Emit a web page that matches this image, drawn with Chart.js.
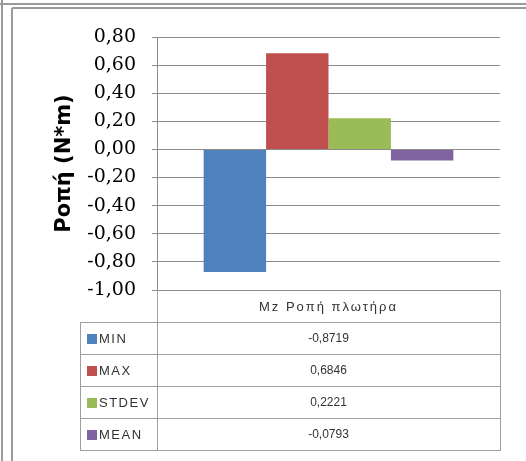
<!DOCTYPE html>
<html>
<head>
<meta charset="utf-8">
<script src="https://cdn.jsdelivr.net/npm/chart.js@4.4.0/dist/chart.umd.min.js"></script>
<style>
  html, body { margin: 0; padding: 0; background: #fff; }
  #c { display: block; }
</style>
</head>
<body>
<canvas id="c" width="526" height="461"></canvas>
<script>
// Chart data
const categories = ["Mz Ροπή πλωτήρα"];
const seriesNames = ["MIN", "MAX", "STDEV", "MEAN"];
const seriesValues = [-0.8719, 0.6846, 0.2221, -0.0793];
const seriesColors = ["#4F81BD", "#C0504D", "#9BBB59", "#8064A2"];
const yTicks = [0.8, 0.6, 0.4, 0.2, 0, -0.2, -0.4, -0.6, -0.8, -1.0];
const yTitle = "Ροπή (Ν*m)";

// Comma decimal, as in the Greek Excel original.
function fmt(v, d) {
  return v.toFixed(d).replace(".", ",");
}

// Outer double frame (window edge of the screenshot).
const framePlugin = {
  id: "frame",
  beforeDraw(chart) {
    const ctx = chart.ctx;
    ctx.save();
    ctx.fillStyle = "#fff";
    ctx.fillRect(0, 0, chart.width, chart.height);
    ctx.strokeStyle = "#9a9a9a";
    ctx.lineWidth = 2;
    ctx.beginPath();
    ctx.moveTo(0, 4); ctx.lineTo(chart.width, 4);
    ctx.moveTo(12, 8); ctx.lineTo(chart.width, 8);
    ctx.moveTo(2, 0); ctx.lineTo(2, chart.height);
    ctx.moveTo(12, 8); ctx.lineTo(12, chart.height);
    ctx.stroke();
    ctx.restore();
  },
};

// Excel-style data table under the plot.
const tablePlugin = {
  id: "dataTable",
  afterDraw(chart) {
    const { ctx, chartArea } = chart;
    const left = chartArea.left, right = chartArea.right, top = chartArea.bottom;
    const rowH = 32, tableLeft = 80;
    const mid = (left + right) / 2;
    ctx.save();
    ctx.strokeStyle = "#a0a0a0";
    ctx.lineWidth = 1;
    ctx.beginPath();
    // verticals
    ctx.moveTo(left + 0.5, top); ctx.lineTo(left + 0.5, top + rowH * 5);
    ctx.moveTo(right + 0.5, top); ctx.lineTo(right + 0.5, top + rowH * 5);
    ctx.moveTo(tableLeft + 0.5, top + rowH); ctx.lineTo(tableLeft + 0.5, top + rowH * 5);
    // horizontals
    for (let i = 1; i <= 5; i++) {
      const y = Math.round(top + rowH * i) + 0.5;
      ctx.moveTo(tableLeft, y); ctx.lineTo(right + 1, y);
    }
    ctx.stroke();

    ctx.fillStyle = "#333";
    ctx.textBaseline = "middle";
    ctx.textAlign = "center";
    ctx.font = "13px 'Liberation Sans', Arial, sans-serif";
    ctx.letterSpacing = "2px";
    ctx.fillText(categories[0], mid, top + rowH / 2 + 1);

    seriesNames.forEach((name, i) => {
      const cy = top + rowH * (i + 1) + rowH / 2 + 1;
      ctx.fillStyle = seriesColors[i];
      ctx.fillRect(tableLeft + 7, cy - 5, 10, 10);
      ctx.fillStyle = "#333";
      ctx.textAlign = "left";
      ctx.letterSpacing = "1.5px";
      ctx.font = "13px 'Liberation Sans', Arial, sans-serif";
      ctx.fillText(name, tableLeft + 19, cy);
      ctx.textAlign = "center";
      ctx.letterSpacing = "0px";
      ctx.font = "12px 'Liberation Sans', Arial, sans-serif";
      ctx.fillText(fmt(seriesValues[i], 4), mid, cy);
    });
    ctx.restore();
  },
};

new Chart(document.getElementById("c"), {
  type: "bar",
  data: {
    labels: categories,
    datasets: seriesNames.map((name, i) => ({
      label: name,
      data: [seriesValues[i]],
      backgroundColor: seriesColors[i],
      borderWidth: 0,
      categoryPercentage: 0.728,
      barPercentage: 1.0,
    })),
  },
  options: {
    responsive: false,
    animation: false,
    layout: { padding: { left: 0, top: 37, right: 26, bottom: 171 } },
    plugins: {
      legend: { display: false },
      tooltip: { enabled: false },
    },
    scales: {
      x: { display: false },
      y: {
        min: -1.0,
        max: 0.8,
        afterBuildTicks: (s) => { s.ticks = yTicks.map((v) => ({ value: v })); },
        afterFit: (s) => { s.width = 157; },
        border: { display: true, color: "#8c8c8c", width: 1 },
        grid: {
          color: "#8c8c8c",
          lineWidth: 1,
          drawTicks: true,
          tickLength: 5,
          tickColor: "#8c8c8c",
        },
        ticks: {
          padding: 16,
          color: "#000",
          font: { family: "'DejaVu Serif', serif", size: 19 },
          callback: (v) => fmt(v, 2),
        },
        title: {
          display: true,
          text: yTitle,
          color: "#000",
          font: { family: "'DejaVu Sans', sans-serif", size: 21, weight: "bold" },
          padding: { top: 52, bottom: 0 },
        },
      },
    },
  },
  plugins: [framePlugin, tablePlugin],
});
</script>
</body>
</html>
